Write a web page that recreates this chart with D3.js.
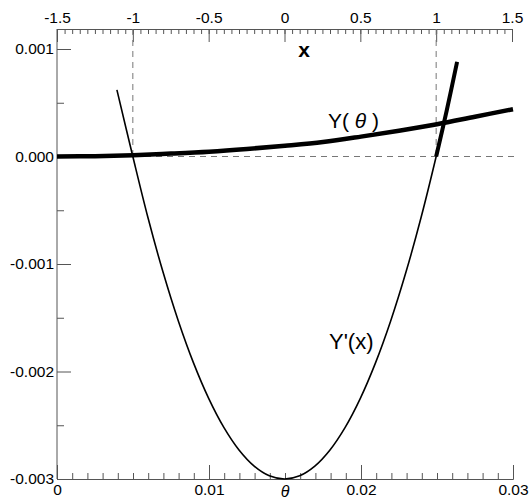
<!DOCTYPE html>
<html><head><meta charset="utf-8">
<script src="https://cdn.jsdelivr.net/npm/d3@7"></script>
<style>
body{margin:0;background:#fff;}
text{font-family:"Liberation Sans",Arial,sans-serif;fill:#000;}
</style></head>
<body>
<svg id="chart" width="530" height="503"></svg>
<script>
// ---- data ----
const thetaTicks = [0, 0.01, 0.02, 0.03];
const thetaTickLabels = ["0", "0.01", "0.02", "0.03"];
const xTicks = [-1.5, -1, -0.5, 0, 0.5, 1, 1.5];
const xTickLabels = ["-1.5", "-1", "-0.5", "0", "0.5", "1", "1.5"];
const yTicks = [0.001, 0, -0.001, -0.002, -0.003];
const yTickLabels = ["0.001", "0.000", "-0.001", "-0.002", "-0.003"];
const yMinorTicks = [0.0005, -0.0005, -0.0015, -0.0025];
const refX = [-1, 1];
const refY = [0];

// Y(theta): thick curve
const yThetaTheta = [0, 0.0025, 0.005, 0.0075, 0.01, 0.0125, 0.015, 0.0175, 0.02, 0.0225, 0.025, 0.0275, 0.03];
const yThetaVal   = [0, 0.000003, 0.000012, 0.000027, 0.000045, 0.00007, 0.0001, 0.000135, 0.000185, 0.00024, 0.0003, 0.00037, 0.00044];

// Y'(x): thin parabola
const yPrimeX   = [-1.105, -1.0, -0.9, -0.8, -0.7, -0.6, -0.5, -0.4, -0.3, -0.2, -0.1, 0, 0.1, 0.2, 0.3, 0.4, 0.5, 0.6, 0.7, 0.8, 0.9, 1.0, 1.07, 1.138];
const yPrimeVal = [0.00062, 0, -0.00057, -0.00108, -0.00153, -0.00192, -0.00225, -0.00252, -0.00273, -0.00288, -0.00297, -0.003, -0.00297, -0.00288, -0.00273, -0.00252, -0.00225, -0.00192, -0.00153, -0.00108, -0.00057, 0, 0.00043, 0.00088];

// ---- scales ----
const svg = d3.select("#chart");
const mLeft = 57, mRight = 513, mTop = 29, mBottom = 479;
const xT = d3.scaleLinear().domain([0, 0.03]).range([mLeft, mRight]);
const xX = d3.scaleLinear().domain([-1.5, 1.5]).range([mLeft, mRight - 1]);
const y = d3.scaleLinear().domain([-0.003, 0.001]).range([mBottom, 49]);
const axisColor = "#555";

// ---- axes ----
function styleAxis(g){
  g.select(".domain").attr("stroke", axisColor).attr("stroke-width", 1);
  g.selectAll(".tick line").attr("stroke", axisColor).attr("stroke-width", 1);
  g.selectAll("text").attr("font-size", 15.5).attr("fill", "#000")
    .attr("font-family", '"Liberation Sans",Arial,sans-serif');
}
// bottom theta axis
const gB = svg.append("g").attr("transform", `translate(0,${mBottom})`)
  .call(d3.axisBottom(xT).tickValues(d3.range(0, 31).map(i => i / 1000)).tickSize(-6).tickFormat(""));
gB.call(styleAxis);
const gB2 = svg.append("g").attr("transform", `translate(0,${mBottom})`)
  .call(d3.axisBottom(xT).tickValues(thetaTicks).tickSize(-14).tickPadding(5)
    .tickFormat((d, i) => thetaTickLabels[i]));
gB2.call(styleAxis); gB2.select(".domain").remove();

// top x axis
const gTm = svg.append("g").attr("transform", `translate(0,${mTop})`)
  .call(d3.axisTop(xX).tickValues(d3.range(-30, 31).map(i => i * 0.05)).tickSize(-5).tickFormat(""));
gTm.call(styleAxis);
const gT = svg.append("g").attr("transform", `translate(0,${mTop})`)
  .call(d3.axisTop(xX).tickValues(xTicks).tickSize(-13).tickPadding(6)
    .tickFormat((d, i) => xTickLabels[i]));
gT.call(styleAxis); gT.select(".domain").remove();

// left axis
const gL = svg.append("g").attr("transform", `translate(${mLeft},0)`)
  .call(d3.axisLeft(y).tickValues(yTicks).tickSize(-14).tickPadding(3)
    .tickFormat((d, i) => yTickLabels[i]));
gL.call(styleAxis);
gL.select(".domain").attr("d", `M0,${mTop}V${mBottom}`);
const gLm = svg.append("g").attr("transform", `translate(${mLeft},0)`)
  .call(d3.axisLeft(y).tickValues(yMinorTicks).tickSize(-7).tickFormat(""));
gLm.call(styleAxis); gLm.select(".domain").remove();

// axis titles
svg.append("text").attr("x", xX(0.13)).attr("y", 57).attr("text-anchor", "middle")
  .attr("font-size", 21).attr("font-weight", "bold").text("x");
svg.append("text").attr("x", xT(0.015)).attr("y", 497).attr("text-anchor", "middle")
  .attr("font-size", 16).attr("font-style", "italic").text("θ");

// ---- reference dashed lines ----
refX.forEach(v => {
  svg.append("line").attr("x1", xX(v)).attr("x2", xX(v))
    .attr("y1", mTop).attr("y2", y(0))
    .attr("stroke", "#777").attr("stroke-width", 1).attr("stroke-dasharray", "6,5");
});
refY.forEach(v => {
  svg.append("line").attr("x1", mLeft).attr("x2", mRight + 5)
    .attr("y1", y(v)).attr("y2", y(v))
    .attr("stroke", "#777").attr("stroke-width", 1).attr("stroke-dasharray", "6,5");
});

// ---- curves ----
const ypPts = yPrimeX.map((v, i) => [v, yPrimeVal[i]]);
const lineX = d3.line().x(d => xX(d[0])).y(d => y(d[1])).curve(d3.curveCatmullRom);
svg.append("path").datum(ypPts).attr("d", lineX)
  .attr("fill", "none").attr("stroke", "#000").attr("stroke-width", 1.6);
svg.append("path").datum(ypPts.filter(d => d[0] >= 1)).attr("d", lineX)
  .attr("fill", "none").attr("stroke", "#000").attr("stroke-width", 4);

const ytPts = yThetaTheta.map((v, i) => [v, yThetaVal[i]]);
const lineT = d3.line().x(d => xT(d[0])).y(d => y(d[1])).curve(d3.curveCatmullRom);
svg.append("path").datum(ytPts).attr("d", lineT)
  .attr("fill", "none").attr("stroke", "#000").attr("stroke-width", 4.5);

// ---- curve labels ----
const lab1 = svg.append("text").attr("x", 328).attr("y", 128).attr("font-size", 21);
lab1.append("tspan").text("Y( ");
lab1.append("tspan").attr("font-style", "italic").text("θ");
lab1.append("tspan").text(" )");
svg.append("text").attr("x", 329).attr("y", 349).attr("font-size", 22).text("Y'(x)");
</script>
</body></html>
